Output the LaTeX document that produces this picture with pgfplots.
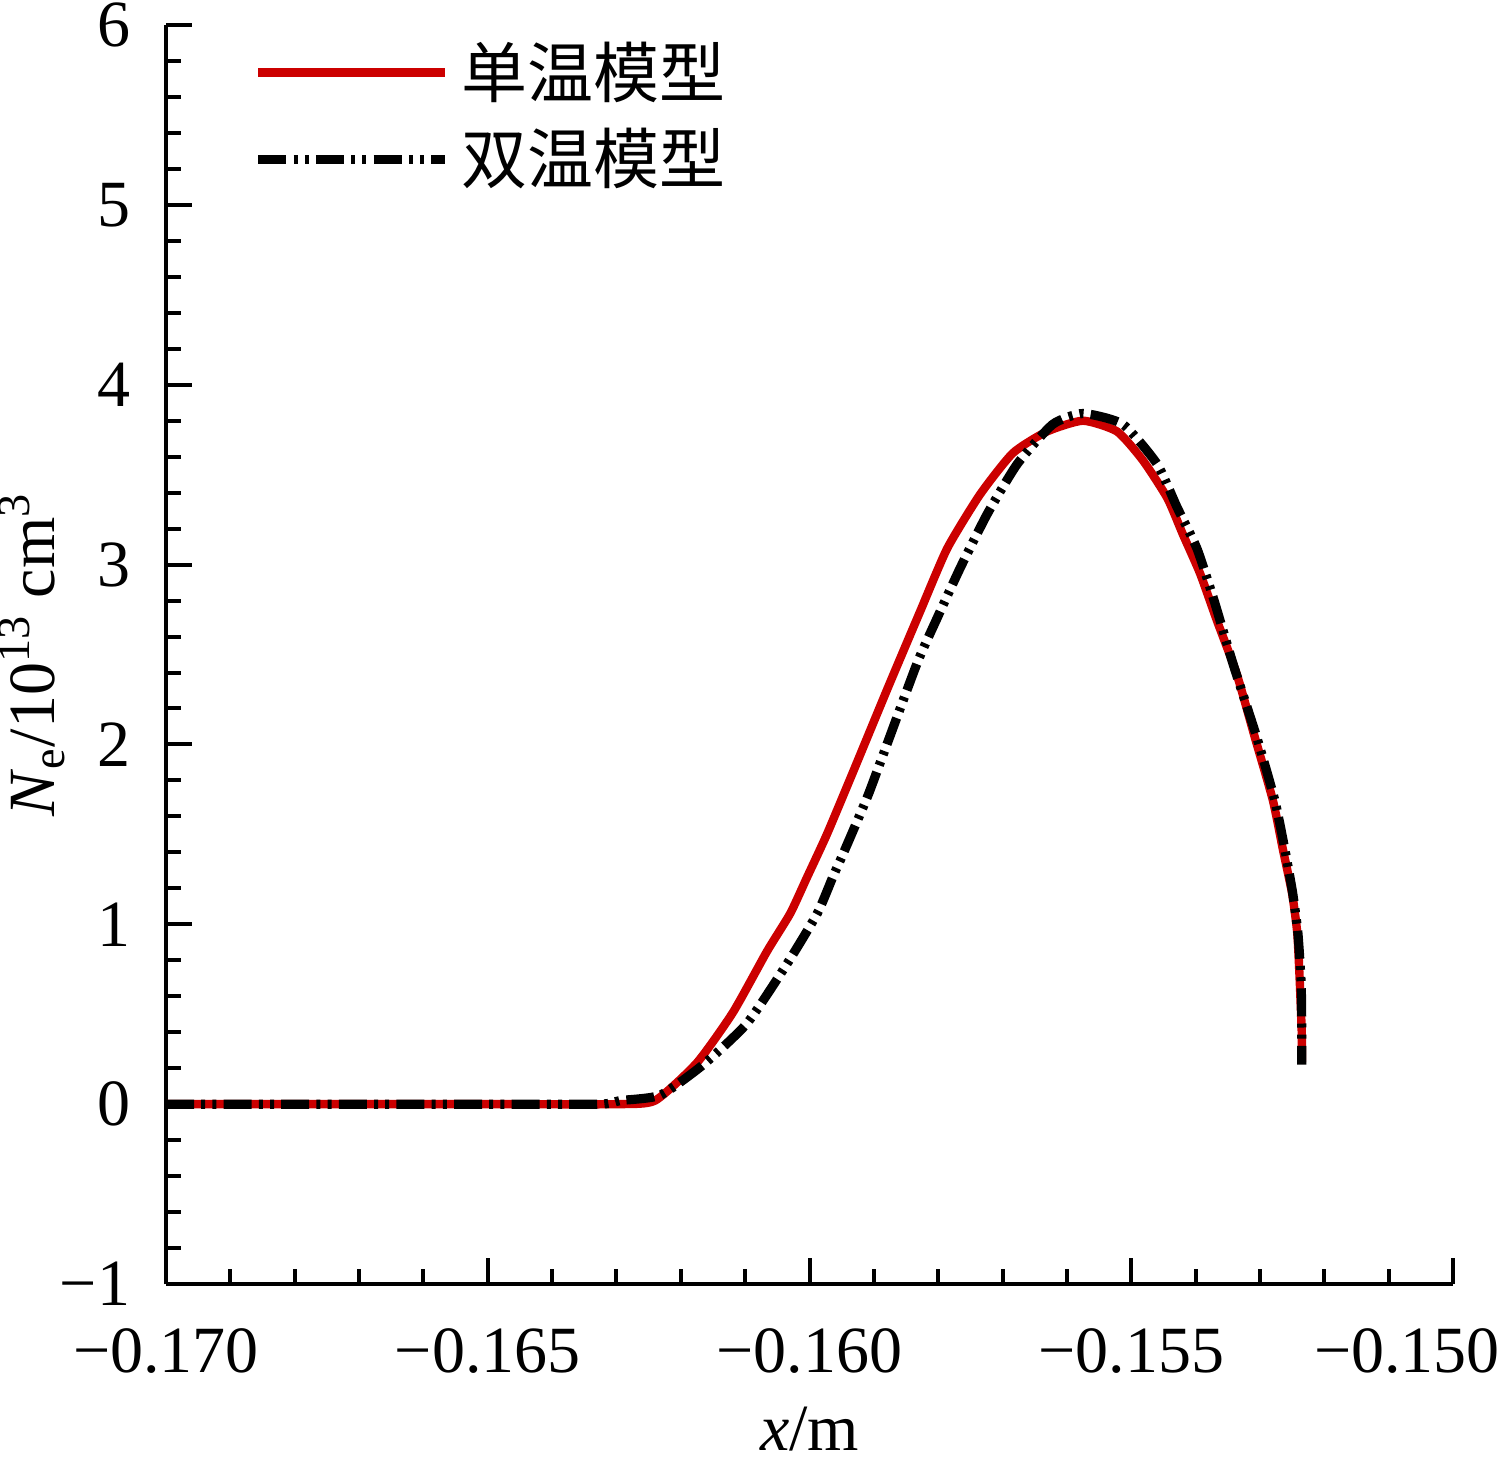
\documentclass[border=0pt]{standalone}
\usepackage{fontspec}
\setmainfont{Liberation Serif}
\newfontfamily\cjk{Noto Sans CJK SC}
\usepackage{pgfplots}
\pgfplotsset{compat=1.18}
\newcommand\fs{\fontsize{16.5}{19}\selectfont}
\definecolor{myred}{RGB}{204,0,0}

\pgfplotstableread{
x y
-0.17000 0
-0.16800 0
-0.16500 0
-0.16300 0.00
-0.16240 0.02
-0.16175 0.23
-0.16119 0.51
-0.16066 0.85
-0.16030 1.06
-0.16004 1.26
-0.15973 1.50
-0.15932 1.85
-0.15880 2.30
-0.15847 2.58
-0.15828 2.74
-0.15786 3.09
-0.15735 3.39
-0.15684 3.62
-0.15631 3.74
-0.15575 3.80
-0.15522 3.74
-0.15482 3.58
-0.15444 3.37
-0.15420 3.17
-0.15393 2.95
-0.15367 2.69
-0.15336 2.39
-0.15308 2.04
-0.15280 1.69
-0.15264 1.41
-0.15250 1.17
-0.15242 0.95
-0.15238 0.67
-0.15235 0.39
-0.15235 0.23
}\single

\pgfplotstableread{
x y
-0.17000 0
-0.16800 0
-0.16500 0
-0.16326 0.00
-0.16294 0.02
-0.16232 0.05
-0.16165 0.22
-0.16097 0.45
-0.16035 0.78
-0.15988 1.06
-0.15963 1.27
-0.15948 1.39
-0.15911 1.70
-0.15890 1.90
-0.15833 2.45
-0.15802 2.70
-0.15766 2.98
-0.15724 3.28
-0.15677 3.56
-0.15622 3.78
-0.15575 3.84
-0.15513 3.78
-0.15460 3.56
-0.15429 3.32
-0.15398 3.09
-0.15373 2.82
-0.15342 2.45
-0.15305 2.04
-0.15277 1.69
-0.15261 1.41
-0.15249 1.17
-0.15241 0.95
-0.15236 0.67
-0.15235 0.39
-0.15235 0.22
}\double

\begin{document}
\begin{tikzpicture}
\begin{axis}[
  scale only axis, width=321.75pt, height=314.75pt,
  xmin=-0.170, xmax=-0.150, ymin=-1, ymax=6,
  axis x line*=bottom, axis y line*=left,
  axis line style={line width=1.1pt, -},
  xtick={-0.170,-0.165,-0.160,-0.155,-0.150},
  xticklabels={−0.170,−0.165,−0.160,−0.155,\hspace*{-23pt}−0.150},
  ytick={-1,0,1,2,3,4,5,6},
  yticklabels={−1,0,1,2,3,4,5,6},
  minor x tick num=4, minor y tick num=4,
  tick align=inside,
  major tick length=6.5pt, minor tick length=3.75pt,
  every tick/.style={line width=1pt, black},
  tick label style={font=\fs, inner sep=0pt},
  xticklabel style={anchor=north, yshift=-11pt},
  yticklabel style={anchor=east, xshift=-8.75pt},
  every axis x label/.style={at={(rel axis cs:0.5,0)}, anchor=center, yshift=-36.25pt, font=\fs},
  every axis y label/.style={at={(rel axis cs:0,0.5)}, anchor=center, rotate=90, yshift=33.5pt, font=\fs},
  xlabel={\textit{x}/m},
  ylabel={\textit{N}\textsubscript{e}/10\textsuperscript{13} cm\textsuperscript{3}},
  legend style={draw=none, fill=none, at={(rel axis cs:0.0676,0.9872)}, anchor=north west,
    font=\cjk\fs, row sep=6.25pt, column sep=3pt, inner sep=0pt, nodes={inner sep=0pt}},
  legend cell align=left,
  legend image code/.code={\draw[#1] (0pt,0pt) -- (46.75pt,0pt);},
]
\coordinate (bl) at (rel axis cs:0,0);
\addplot[myred, line width=2.1pt, smooth, tension=0.35] table[x=x,y=y]{\single};
\addlegendentry{单温模型}
\addplot[black, line width=2.3pt, smooth, tension=0.35, dash pattern=on 7pt off 1.8pt on 1pt off 1.8pt on 1pt off 1.8pt] table[x=x,y=y]{\double};
\addlegendentry{双温模型}
\end{axis}
\pgfresetboundingbox
\path (bl) ++(-41.5pt,-44pt) rectangle ++(374.5pt,365pt);
\end{tikzpicture}
\end{document}
